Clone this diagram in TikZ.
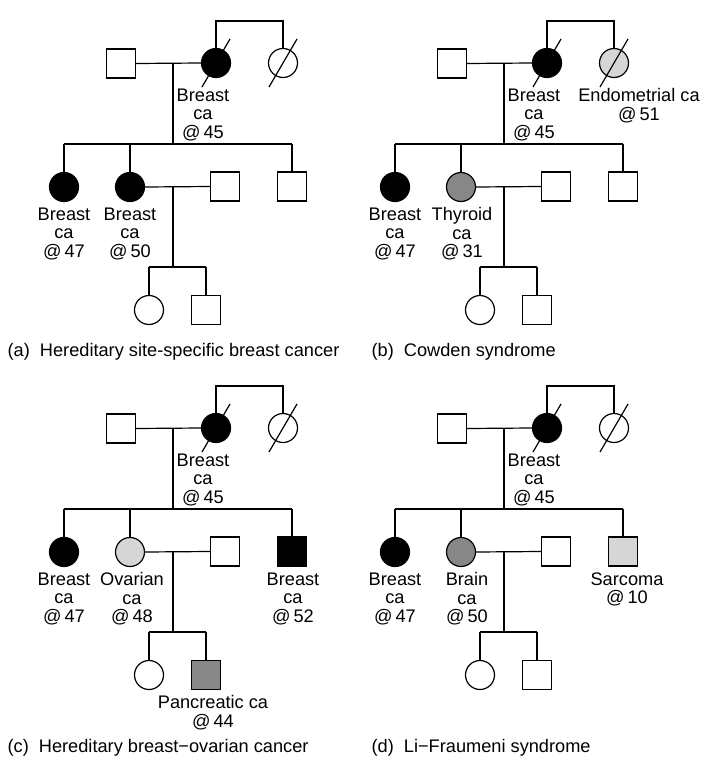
\documentclass[tikz,border=0pt]{standalone}
\usepackage{fontspec}
\setmainfont{Liberation Sans}
\usetikzlibrary{calc}

\definecolor{lightca}{gray}{0.84}
\definecolor{midca}{gray}{0.53}

\tikzset{
  male/.style={draw, rectangle, minimum size=29pt, inner sep=0pt},
  female/.style={draw, circle, minimum size=29pt, inner sep=0pt},
  affected/.style={fill=black},
  lightaff/.style={fill=lightca},
  midaff/.style={fill=midca},
  plain/.style={},
  lbl/.style={align=center, anchor=north, inner sep=0pt},
  caption/.style={anchor=west, inner sep=0pt}
}

% slash through a deceased person
\newcommand{\deceased}[1]{\draw ([shift={(-14,24)}]#1.center) -- ([shift={(14,-24)}]#1.center);}

% one family tree: prefix, aunt, second child, fourth child, grandson
\newcommand{\pedigree}[5]{%
  \node[male] (#1fa) at (121,63.5) {};
  \node[female, affected] (#1mo) at (216,63) {};
  \node[female, #2] (#1au) at (283,63) {};
  \node[female, affected] (#1c1) at (64,187) {};
  \node[female, #3] (#1c2) at (130,187) {};
  \node[male] (#1sp) at (225,186.5) {};
  \node[male, #4] (#1c4) at (292,186.5) {};
  \node[female] (#1g1) at (149,310) {};
  \node[male, #5] (#1g2) at (206,310) {};
  \coordinate (#1top) at (250,21);
  \coordinate (#1sib) at (173,144);
  \coordinate (#1gsib) at (173,267);
  % grandparents' generation
  \draw (#1mo.north) -- (#1mo.north |- #1top) -- (#1au.north |- #1top) -- (#1au.north);
  \draw (#1fa.east) -- (#1mo.west);
  \draw (#1fa.east -| #1sib) -- (#1sib);
  \deceased{#1mo}
  \deceased{#1au}
  % children
  \draw (#1c1.north |- #1sib) -- (#1c4.north |- #1sib);
  \foreach \k in {c1, c2, c4}
    \draw (#1\k.north |- #1sib) -- (#1\k.north);
  \draw (#1c2.east) -- (#1sp.west);
  % grandchildren
  \draw (#1c2.east -| #1gsib) -- (#1gsib);
  \draw (#1g1.north |- #1gsib) -- (#1g2.north |- #1gsib);
  \foreach \k in {g1, g2}
    \draw (#1\k.north |- #1gsib) -- (#1\k.north);
  \node[lbl] (#1mol) at (203,88) {Breast\\ca\\@\,45};
  \node[lbl] (#1c1l) at (64,207) {Breast\\ca\\@\,47};
}

\begin{document}
\begin{tikzpicture}[x=1pt, y=-1pt, line width=1.2pt,
    font=\fontsize{18.2}{18.5}\selectfont]
  \useasboundingbox (0,0) rectangle (712,768);

  % (a)
  \begin{scope}
    \pedigree{a}{plain}{affected}{plain}{plain}
    \node[lbl] (ac2l) at (130,207) {Breast\\ca\\@\,50};
  \end{scope}

  % (b)
  \begin{scope}[shift={(331,0)}]
    \pedigree{b}{lightaff}{midaff}{plain}{plain}
    \node[lbl] (baul) at (308,88) {Endometrial ca\\@\,51};
    \node[lbl] (bc2l) at (131,207) {Thyroid\\ca\\@\,31};
  \end{scope}

  % (c)
  \begin{scope}[shift={(0,365)}]
    \pedigree{c}{plain}{lightaff}{affected}{midaff}
    \node[lbl] (cc2l) at (132,207) {Ovarian\\ca\\@\,48};
    \node[lbl] (cc4l) at (293,207) {Breast\\ca\\@\,52};
    \node[lbl] (cg2l) at (213,330) {Pancreatic ca\\@\,44};
  \end{scope}

  % (d)
  \begin{scope}[shift={(331,365)}]
    \pedigree{d}{plain}{midaff}{lightaff}{plain}
    \node[lbl] (dc2l) at (136,207) {Brain\\ca\\@\,50};
    \node[lbl] (dc4l) at (296,207) {Sarcoma\\@\,10};
  \end{scope}

  % captions
  \node[caption] (capa) at (7,352) {(a)\ \ Hereditary site-specific breast cancer};
  \node[caption] (capb) at (371,352) {(b)\ \ Cowden syndrome};
  \node[caption] (capc) at (7,748) {(c)\ \ Hereditary breast−ovarian cancer};
  \node[caption] (capd) at (371,748) {(d)\ \ Li−Fraumeni syndrome};
\end{tikzpicture}
\end{document}
